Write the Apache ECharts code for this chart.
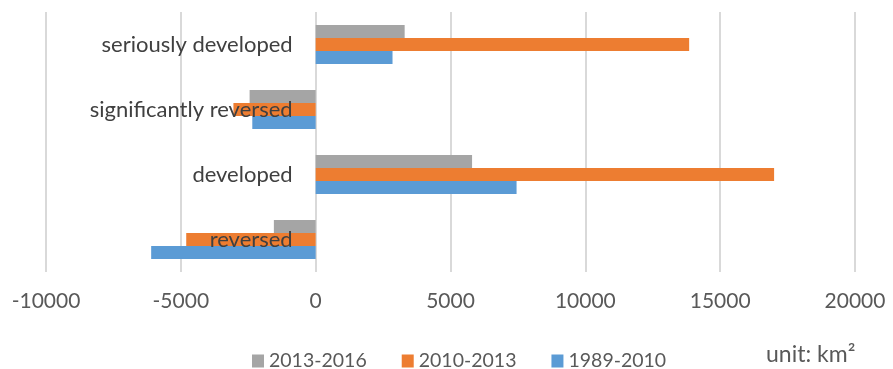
<!DOCTYPE html>
<html>
<head>
<meta charset="utf-8">
<script src="https://cdn.jsdelivr.net/npm/echarts@6/dist/echarts.min.js"></script>
<style>
  html, body { margin: 0; padding: 0; background: #fff; }
  #chartsDom { width: 893px; height: 369px; }
</style>
</head>
<body>
<div id="chartsDom"></div>
<script>
// categories, bottom to top
var categories = ["reversed", "developed", "significantly reversed", "seriously developed"];
// values in km2
var s1989_2010 = [-6100, 7450, -2350, 2850];
var s2010_2013 = [-4800, 17000, -3050, 13850];
var s2013_2016 = [-1550, 5800, -2450, 3300];
var legendNames = ["2013-2016", "2010-2013", "1989-2010"];

var myChart = echarts.init(document.getElementById("chartsDom"));

var font = "Lato, 'Open Sans', sans-serif";
var gridLeft = 46, gridRight = 38;
var xMin = -10000, xMax = 20000;
// category labels sit next to the zero line, like Excel does
var zeroOffset = (893 - gridLeft - gridRight) * (0 - xMin) / (xMax - xMin);

var option = {
  animation: false,
  grid: { left: gridLeft, right: gridRight, top: 12, bottom: 97, containLabel: false, outerBoundsMode: "none" },
  legend: {
    data: legendNames,
    top: 346,
    left: 247,
    itemWidth: 12,
    itemHeight: 13,
    itemGap: 35,
    icon: "rect",
    textStyle: { fontFamily: font, fontSize: 19.5, color: "#595959" }
  },
  graphic: [{
    type: "text",
    left: 766,
    top: 343,
    style: { text: "unit: km²", font: "23px " + font, fill: "#595959" }
  }],
  xAxis: {
    type: "value",
    min: xMin,
    max: xMax,
    interval: 5000,
    axisLine: { show: false },
    axisTick: { show: false },
    axisLabel: { fontFamily: font, fontSize: 21, color: "#595959", margin: 19, formatter: function (v) { return String(v); } },
    splitLine: { lineStyle: { color: "#D9D9D9", width: 2 } }
  },
  yAxis: {
    type: "category",
    data: categories,
    z: 10,
    offset: -zeroOffset,
    axisLine: { show: false, onZero: false },
    axisTick: { show: false },
    axisLabel: { fontFamily: font, fontSize: 22, color: "#404040", margin: 23 }
  },
  series: [
    { name: "2013-2016", type: "bar", data: s2013_2016, itemStyle: { color: "#A5A5A5" }, barWidth: 13, barGap: "0%", barCategoryGap: "40%" },
    { name: "2010-2013", type: "bar", data: s2010_2013, itemStyle: { color: "#ED7D31" }, barWidth: 13, barGap: "0%" },
    { name: "1989-2010", type: "bar", data: s1989_2010, itemStyle: { color: "#5B9BD5" }, barWidth: 13, barGap: "0%" }
  ]
};
myChart.setOption(option);
</script>
</body>
</html>
